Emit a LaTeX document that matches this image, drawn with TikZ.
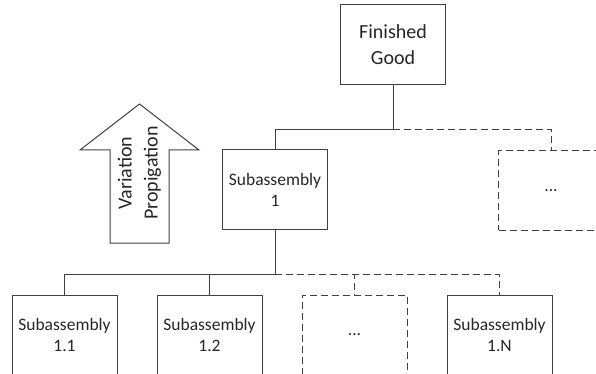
\documentclass[tikz,border=0pt]{standalone}
\usepackage{fontspec}
\setmainfont{Carlito}
\usetikzlibrary{positioning,calc}
\definecolor{linegray}{HTML}{404040}
\definecolor{textgray}{HTML}{262626}
\newcommand\bigtext{\fontsize{20}{26}\selectfont}
\newcommand\smalltext{\fontsize{17.5}{21}\selectfont}

\begin{document}
\begin{tikzpicture}[
  x=1pt, y=-1pt,
  box/.style={draw=linegray, line width=1pt, minimum width=105pt,
              minimum height=79pt, align=center, text=textgray,
              font=\smalltext, inner sep=0pt},
  ghost/.style={box, dash pattern=on 7pt off 4pt},
  link/.style={draw=linegray, line width=1pt},
  dlink/.style={link, dash pattern=on 7pt off 4pt}
]
  \useasboundingbox (0,0) rectangle (596,374);

  \node[box, font=\bigtext, minimum height=80pt] (good) at (393,45) {Finished\\Good};
  \node[box] (sub1)  at (275,189.5) {Subassembly\\1};
  \node[ghost] (more1) at (551,190.5) {...};

  \node[box, minimum height=80pt] (sub11) at (64.5,335) {Subassembly\\1.1};
  \node[box, minimum height=80pt, right=39pt of sub11] (sub12) {Subassembly\\1.2};
  \node[ghost, minimum height=80pt, right=39pt of sub12] (more2) {...};
  \node[box, minimum height=80pt, right=39pt of more2] (sub1N) {Subassembly\\1.N};

  % bus lines, 20px above the children
  \coordinate (bus1) at ($(sub1.north)+(0,-20)$);
  \coordinate (bus2) at ($(sub1.south |- sub11.north)+(0,-20)$);

  \draw[link] (good.south) |- (bus1) -- (sub1.north);
  \draw[dlink] (bus1 -| good.south) -| (more1.north);

  \draw[link] (sub1.south) -- (bus2) -| (sub11.north);
  \draw[link] (bus2 -| sub12.north) -- (sub12.north);
  \draw[dlink] (bus2) -| (more2.north);
  \draw[dlink] (bus2) -| (sub1N.north);

  % propagation arrow
  \draw[link, line join=miter] (139.5,104) -- (199,150) -- (169,150) -- (169,243)
    -- (110,243) -- (110,150) -- (80,150) -- cycle;
  \node[rotate=90, font=\bigtext, align=center, text=textgray] (prop) at (139.5,173)
    {Variation\\Propigation};
\end{tikzpicture}
\end{document}
